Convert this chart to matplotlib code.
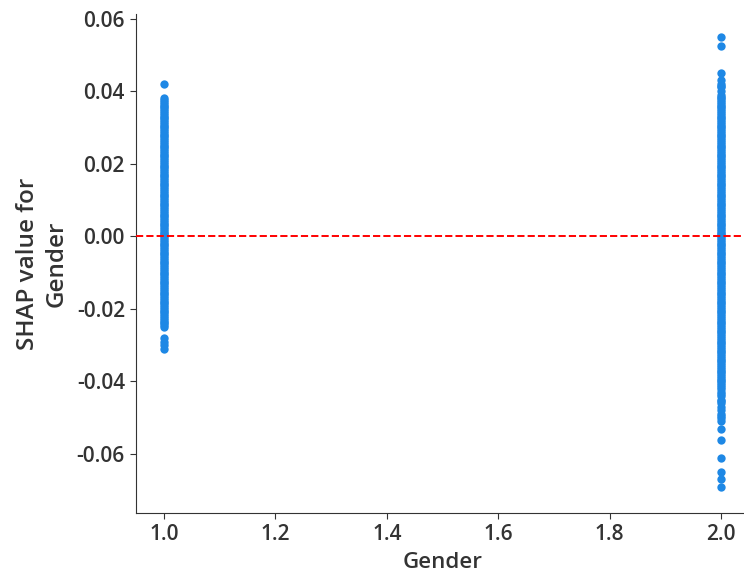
# SHAP dependence plot for Gender
import matplotlib
matplotlib.use('Agg')
import matplotlib.pyplot as plt

plt.rcParams['font.family'] = ['Open Sans', 'DejaVu Sans']
plt.rcParams['font.weight'] = 'semibold'
plt.rcParams['axes.unicode_minus'] = False

# SHAP values, one list per gender value
shap_gender_1 = [
    0.042, 0.038, 0.0375, 0.037, 0.0365, 0.036, 0.0355, 0.035, 0.0345,
    0.034, 0.0335, 0.033, 0.0325, 0.032, 0.0315, 0.031, 0.0305, 0.030, 0.0295,
    0.029, 0.0285, 0.028, 0.0275, 0.027, 0.0265, 0.026, 0.0255, 0.025, 0.0245,
    0.024, 0.0235, 0.023, 0.0225, 0.022, 0.0215, 0.021, 0.0205, 0.020, 0.0195,
    0.019, 0.0185, 0.018, 0.0175, 0.017, 0.0165, 0.016, 0.0155, 0.015, 0.0145,
    0.014, 0.0135, 0.013, 0.0125, 0.012, 0.0115, 0.011, 0.0105, 0.010, 0.0095,
    0.009, 0.0085, 0.008, 0.0075, 0.007, 0.0065, 0.006, 0.0055, 0.005, 0.0045,
    0.004, 0.0035, 0.003, 0.0025, 0.002, 0.0015, 0.001, 0.0005, 0.000, -0.0005,
    -0.001, -0.0015, -0.002, -0.0025, -0.003, -0.0035, -0.004, -0.0045, -0.005, -0.0055,
    -0.006, -0.0065, -0.007, -0.0075, -0.008, -0.0085, -0.009, -0.0095, -0.010, -0.0105,
    -0.011, -0.0115, -0.012, -0.0125, -0.013, -0.0135, -0.014, -0.0145, -0.015, -0.0155,
    -0.016, -0.0165, -0.017, -0.0175, -0.018, -0.0185, -0.019, -0.0195, -0.020, -0.0205,
    -0.021, -0.0215, -0.022, -0.0225, -0.023, -0.0235, -0.024, -0.0245, -0.025,
    -0.028, -0.029, -0.030, -0.031,
]
shap_gender_2 = [
    0.055, 0.0525, 0.045, 0.043, 0.042, 0.0415, 0.041, 0.040, 0.039, 0.0385,
    0.038, 0.0375, 0.037, 0.0365, 0.036, 0.0355,
    0.035, 0.0345, 0.034, 0.0335, 0.033, 0.0325, 0.032, 0.0315, 0.031, 0.0305,
    0.030, 0.0295, 0.029, 0.0285, 0.028, 0.0275, 0.027, 0.0265, 0.026, 0.0255,
    0.025, 0.0245, 0.024, 0.0235, 0.023, 0.0225, 0.022, 0.0215, 0.021, 0.0205,
    0.020, 0.0195, 0.019, 0.0185, 0.018, 0.0175, 0.017, 0.0165, 0.016, 0.0155,
    0.015, 0.0145, 0.014, 0.0135, 0.013, 0.0125, 0.012, 0.0115, 0.011, 0.0105,
    0.010, 0.0095, 0.009, 0.0085, 0.008, 0.0075, 0.007, 0.0065, 0.006, 0.0055,
    0.005, 0.0045, 0.004, 0.0035, 0.003, 0.0025, 0.002, 0.0015, 0.001, 0.0005,
    0.000, -0.0005, -0.001, -0.0015, -0.002, -0.0025, -0.003, -0.0035, -0.004, -0.0045,
    -0.005, -0.0055, -0.006, -0.0065, -0.007, -0.0075, -0.008, -0.0085, -0.009, -0.0095,
    -0.010, -0.0105, -0.011, -0.0115, -0.012, -0.0125, -0.013, -0.0135, -0.014, -0.0145,
    -0.015, -0.0155, -0.016, -0.0165, -0.017, -0.0175, -0.018, -0.0185, -0.019, -0.0195,
    -0.020, -0.0205, -0.021, -0.0215, -0.022, -0.0225, -0.023, -0.0235, -0.024, -0.0245,
    -0.025, -0.0255, -0.026, -0.0265, -0.027, -0.0275, -0.028, -0.0285, -0.029, -0.0295,
    -0.030, -0.0305, -0.031, -0.0315, -0.032, -0.0325, -0.033, -0.0335, -0.034, -0.0345,
    -0.035, -0.0355, -0.036, -0.0365, -0.037, -0.0375, -0.038, -0.0385, -0.039, -0.0395,
    -0.040, -0.0405, -0.041, -0.0415, -0.042, -0.043, -0.0435, -0.044, -0.045, -0.0455,
    -0.046, -0.047, -0.048, -0.049, -0.0495, -0.050, -0.051, -0.053, -0.056,
    -0.061, -0.065, -0.067, -0.069,
]
gender_values = [1.0, 2.0]

x = [gender_values[0]] * len(shap_gender_1) + [gender_values[1]] * len(shap_gender_2)
y = shap_gender_1 + shap_gender_2

axis_color = '#333333'

fig = plt.figure(figsize=(7.44, 5.81), dpi=100)
ax = fig.add_axes([136 / 744, 68 / 581, 613 / 744, 499 / 581])

ax.scatter(x, y, s=36, color='#1E88E5', linewidths=0, zorder=2)
ax.axhline(0, color='red', linestyle='--', linewidth=1.4, zorder=3)

ax.set_xlim(0.95, 2.05)
ax.set_ylim(-0.07625, 0.06125)
ax.set_xticks([1.0, 1.2, 1.4, 1.6, 1.8, 2.0])
ax.set_yticks([-0.06, -0.04, -0.02, 0.00, 0.02, 0.04, 0.06])

ax.set_xlabel('Gender', fontsize=16, color=axis_color, fontweight='semibold', labelpad=5)
ax.set_ylabel('SHAP value for\nGender', fontsize=17.5, color=axis_color,
              fontweight='semibold', linespacing=1.25, labelpad=6)

ax.spines['top'].set_visible(False)
ax.spines['right'].set_visible(False)
for s in ['left', 'bottom']:
    ax.spines[s].set_color(axis_color)
ax.tick_params(colors=axis_color, labelcolor=axis_color, labelsize=15, length=4.5)

fig.savefig('out.png', dpi=100)
